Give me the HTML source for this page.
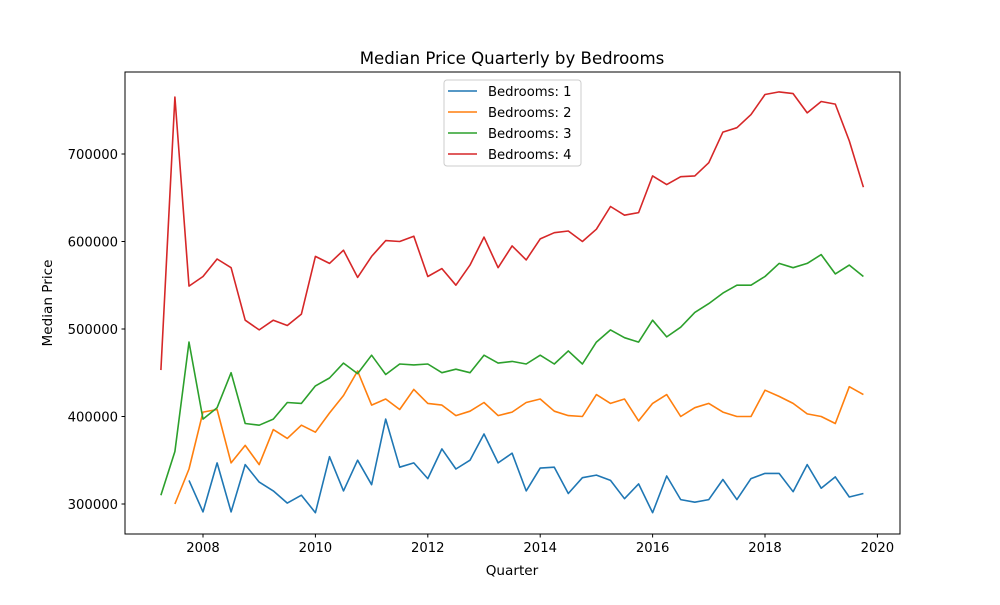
<!DOCTYPE html>
<html><head><meta charset="utf-8"><style>
body{margin:0;background:#fff;}
svg{font-family:"DejaVu Sans","Liberation Sans",sans-serif;}
</style></head><body>
<svg id="chart" width="1000" height="600" xmlns="http://www.w3.org/2000/svg">
<rect width="1000" height="600" fill="#fff"/>
<text x="512" y="64" font-size="16.6" text-anchor="middle">Median Price Quarterly by Bedrooms</text>
<text x="512" y="575" font-size="13.6" text-anchor="middle">Quarter</text>
<text x="52" y="303" font-size="13.6" text-anchor="middle" transform="rotate(-90 52 303)">Median Price</text>
<g id="ticks"></g>
<g id="series"></g>
<rect x="125" y="72" width="775" height="462" fill="none" stroke="#000" stroke-width="1"/>
<g id="legend"></g>
</svg>
<script>
const xTicks=[2008,2010,2012,2014,2016,2018,2020];
const yTicks=[300000,400000,500000,600000,700000];
const seriesNames=["Bedrooms: 1","Bedrooms: 2","Bedrooms: 3","Bedrooms: 4"];
const seriesColors=["#1f77b4","#ff7f0e","#2ca02c","#d62728"];
const seriesStart=[2007.75,2007.5,2007.25,2007.25];
const bed1=[327,291,347,291,345,325,315,301,310,290,354,315,350,322,397,342,347,329,363,340,350,380,347,358,315,341,342,312,330,333,327,306,323,290,332,305,302,305,328,305,329,335,335,314,345,318,331,308,312];
const bed2=[300,340,405,408,347,367,345,385,375,390,382,404,424,452,413,420,408,431,415,413,401,406,416,401,405,416,420,406,401,400,425,415,420,395,415,425,400,410,415,405,400,400,430,423,415,403,400,392,434,425];
const bed3=[310,360,485,397,410,450,392,390,397,416,415,435,444,461,449,470,448,460,459,460,450,454,450,470,461,463,460,470,460,475,460,485,499,490,485,510,491,502,519,529,541,550,550,560,575,570,575,585,563,573,560];
const bed4=[453,765,549,560,580,570,510,499,510,504,517,583,575,590,559,583,601,600,606,560,569,550,573,605,570,595,579,603,610,612,600,614,640,630,633,675,665,674,675,690,725,730,745,768,771,769,747,760,757,715,662];
const allSeries=[bed1,bed2,bed3,bed4];
const NS="http://www.w3.org/2000/svg";
const X0=125,X1=900,Y0=534,Y1=72;
const xMin=2006.612,xMax=2020.402,yMin=265714,yMax=793714;
function sx(v){return X0+(v-xMin)/(xMax-xMin)*(X1-X0);}
function sy(v){return Y0-(v-yMin)/(yMax-yMin)*(Y0-Y1);}
function mk(t,a,p){const e=document.createElementNS(NS,t);for(const k in a)e.setAttribute(k,a[k]);p.appendChild(e);return e;}
const tg=document.getElementById('ticks');
xTicks.forEach(t=>{const x=sx(t);
 const l=mk('line',{x1:x,x2:x,y1:Y0,y2:Y0+3.5,stroke:'#000'},tg);
 
 
 const s=mk('text',{x:x,y:Y0+18,'font-size':13.2,'text-anchor':'middle'},tg);s.textContent=t;
 
 });
yTicks.forEach(t=>{const y=sy(t);
 const l=mk('line',{x1:X0-3.5,x2:X0,y1:y,y2:y,stroke:'#000'},tg);
 
 
 const s=mk('text',{x:X0-7,y:y+5,'font-size':13.2,'text-anchor':'end'},tg);s.textContent=t;
 
 });
const sg=document.getElementById('series');
allSeries.forEach((d,i)=>{
 const pts=d.map((v,j)=>sx(seriesStart[i]+j*0.25).toFixed(1)+','+sy(v*1000).toFixed(1)).join(' ');
 const p=mk('polyline',{points:pts,fill:'none',stroke:seriesColors[i],'stroke-width':1.6,'stroke-linejoin':'round'},sg);
 
 });
const lg=document.getElementById('legend');
const box=mk('rect',{x:444,y:80,width:137,height:86,rx:3,fill:'#fff','fill-opacity':0.8,stroke:'#ccc'},lg);


seriesNames.forEach((n,i)=>{const y=91+i*21;
 const l=mk('line',{x1:448,x2:477,y1:y,y2:y,stroke:seriesColors[i],'stroke-width':1.6},lg);
 
 
 const t=mk('text',{x:488,y:y+5,'font-size':13.2},lg);t.textContent=n;
 
 });
</script>
</body></html>
